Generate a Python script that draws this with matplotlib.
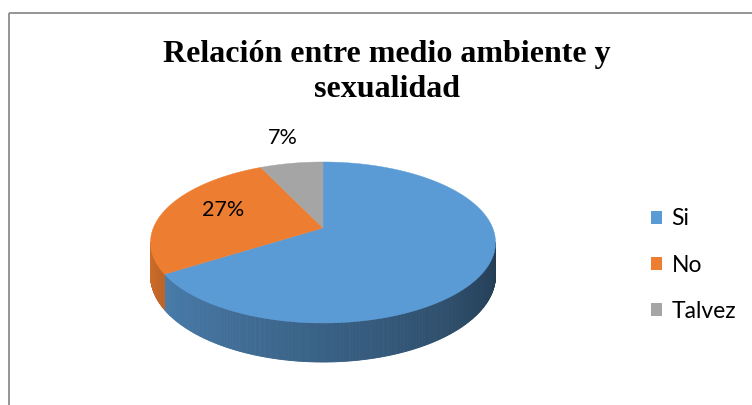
import numpy as np
import matplotlib
matplotlib.use("Agg")
import matplotlib.pyplot as plt
from matplotlib.patches import Polygon, Rectangle, Patch

# datos del gráfico
categorias = ["Si", "No", "Talvez"]
valores = [66, 27, 7]
colores = ["#5B9BD5", "#ED7D31", "#A5A5A5"]
etiquetas_visibles = [False, True, True]
titulo = "Relación entre medio ambiente y\nsexualidad"

# geometría del pastel 3D (en píxeles de la figura)
cx, cy = 323, 228          # vértice central
A, B = 169.7, 77.9         # radios
k = 0.18                   # perspectiva
grosor = 32


def proyectar(theta, dz=0.0):
    # theta en grados, sentido horario desde arriba
    t = np.radians(theta)
    u = np.sin(t)
    v = -np.cos(t)
    s = 1.0 / (1.0 - k * v)
    return cx + A * u * s, cy + B * v * s + dz * s


def sombra(color, f):
    r, g, b = matplotlib.colors.to_rgb(color)
    return (r * f, g * f, b * f)


fig = plt.figure(figsize=(7.52, 4.05), dpi=100)
ax = fig.add_axes([0, 0, 1, 1])
ax.set_xlim(0, 752)
ax.set_ylim(405, 0)
ax.axis("off")

# marco del gráfico
ax.add_patch(Rectangle((9, 12.5), 900, 600, fill=False, edgecolor="#8c8c8c", lw=1.3))

total = sum(valores)
angulos = np.cumsum([0] + [v / total * 360 for v in valores])

# lado visible (frente)
vis0 = np.degrees(np.arccos(-k))
vis1 = 360 - vis0
for i, col in enumerate(colores):
    a0 = max(angulos[i], vis0)
    a1 = min(angulos[i + 1], vis1)
    if a1 <= a0:
        continue
    ts = np.linspace(a0, a1, int((a1 - a0) * 2) + 2)
    for j in range(len(ts) - 1):
        tm = 0.5 * (ts[j] + ts[j + 1])
        f = 0.38 + (0.87 - 0.38) * (tm - vis0) / (vis1 - vis0)
        x0, y0 = proyectar(ts[j])
        x1, y1 = proyectar(ts[j + 1])
        x2, y2 = proyectar(ts[j + 1], grosor)
        x3, y3 = proyectar(ts[j], grosor)
        c = sombra(col, f)
        ax.add_patch(Polygon([(x0, y0), (x1, y1), (x2, y2), (x3, y3)],
                             closed=True, facecolor=c, edgecolor=c, lw=0.6))

# cara superior
for i, col in enumerate(colores):
    ts = np.linspace(angulos[i], angulos[i + 1], 200)
    xs, ys = proyectar(ts)
    pts = [(cx, cy)] + list(zip(xs, ys))
    ax.add_patch(Polygon(pts, closed=True, facecolor=col, edgecolor=col, lw=0.3))

# etiquetas de porcentaje
fuente = "Lato"
pos_etiquetas = {1: (223.5, 210), 2: (283, 138)}
for i, v in enumerate(valores):
    if etiquetas_visibles[i]:
        x, y = pos_etiquetas[i]
        ax.text(x, y, f"{v / total * 100:.0f}%", ha="center", va="center",
                fontsize=15.5, family=fuente, color="black")

# título
ax.text(387, 72, titulo, ha="center", va="center", fontsize=23,
        family="Liberation Serif", fontweight="bold", linespacing=1.25)

# leyenda
manejadores = [Patch(facecolor=c, edgecolor="none") for c in colores]
ley = ax.legend(manejadores, categorias, loc="center left",
                bbox_to_anchor=(640 / 752, 1 - 265 / 405), frameon=False,
                prop={"family": fuente, "size": 16.5}, handlelength=0.48,
                handleheight=0.48, handletextpad=0.4, labelspacing=1.1,
                borderpad=0)

fig.savefig("out.png", dpi=100)
